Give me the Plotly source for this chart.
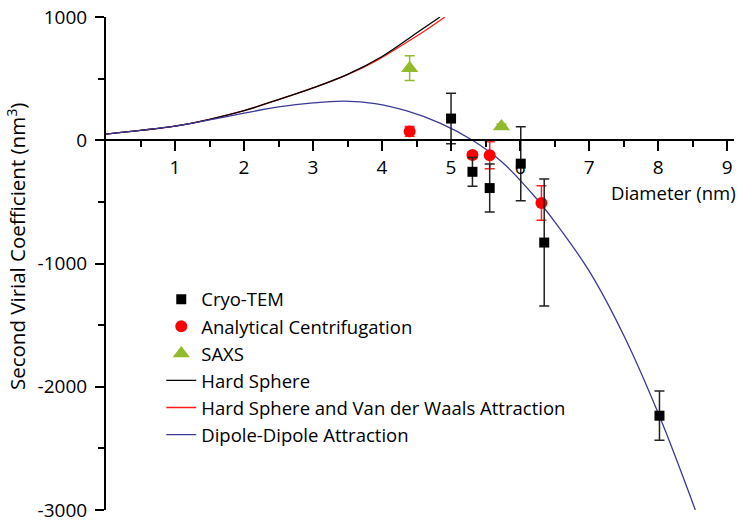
import plotly.graph_objects as go

# --- measured data -------------------------------------------------------
cryo_d = [5.0, 5.31, 5.56, 6.01, 6.35, 8.02]
cryo_b2 = [176, -256, -388, -190, -830, -2235]
cryo_err = [205, 117, 195, 300, 515, 200]

auc_d = [4.40, 5.31, 5.56, 6.31]
auc_b2 = [72, -120, -122, -510]
auc_err = [40, 25, 110, 140]

saxs_d = [4.40, 5.73]
saxs_b2 = [585, 112]
saxs_err = [100, 20]

# --- model curves ---------------------------------------------------------
hs_d = [0.0, 0.5, 1.0, 1.5, 2.0, 2.5, 3.0, 3.5, 4.0, 4.5, 4.84]
hs_b2 = [50, 80, 115, 170, 240, 330, 425, 535, 680, 870, 1000]

vdw_d = [0.0, 0.5, 1.0, 1.5, 2.0, 2.5, 3.0, 3.5, 3.9, 4.3, 4.6, 4.91]
vdw_b2 = [50, 80, 115, 170, 240, 330, 425, 533, 640, 775, 880, 1000]

dip_d = [0.0, 0.5, 1.0, 1.5, 2.0, 2.5, 3.0, 3.45, 3.9, 4.36, 4.84, 5.31,
         5.75, 6.24, 6.5, 7.0, 7.5, 8.02, 8.54]
dip_b2 = [50, 80, 115, 165, 220, 270, 303, 317, 298, 238, 139, 0,
          -182, -475, -660, -1060, -1580, -2240, -3000]

x_ticks = [1, 2, 3, 4, 5, 6, 7, 8, 9]
x_minor = [0.5, 1.5, 2.5, 3.5, 4.5, 5.5, 6.5, 7.5, 8.5]
y_ticks = [-3000, -2000, -1000, 0, 1000]
y_labels = ["-3000", "-2000", "-1000", "0", "1000"]
y_minor = [-2500, -1500, -500, 500]

FONT = "Open Sans"
GREEN = "#92bb2b"
BLUE = "#3a3a96"

fig = go.Figure()

fig.add_trace(go.Scatter(
    x=vdw_d, y=vdw_b2, mode="lines",
    line=dict(color="#ff1a1a", width=1.3, shape="spline", smoothing=1.0),
    name="Hard Sphere and Van der Waals Attraction", legendrank=5))
fig.add_trace(go.Scatter(
    x=hs_d, y=hs_b2, mode="lines",
    line=dict(color="black", width=1.3, shape="spline", smoothing=1.0),
    name="Hard Sphere", legendrank=4))
fig.add_trace(go.Scatter(
    x=dip_d, y=dip_b2, mode="lines",
    line=dict(color=BLUE, width=1.3, shape="spline", smoothing=1.0),
    name="Dipole-Dipole Attraction", legendrank=6))

fig.add_trace(go.Scatter(
    x=saxs_d, y=saxs_b2, mode="markers", name="SAXS", legendrank=3,
    marker=dict(symbol="triangle-up", size=15, color=GREEN),
    error_y=dict(type="data", array=saxs_err, color=GREEN, thickness=1.5, width=5)))
fig.add_trace(go.Scatter(
    x=auc_d, y=auc_b2, mode="markers", name="Analytical Centrifugation", legendrank=2,
    marker=dict(symbol="circle", size=12, color="#ff0000"),
    error_y=dict(type="data", array=auc_err, color="#ff2020", thickness=1.5, width=5)))
fig.add_trace(go.Scatter(
    x=cryo_d, y=cryo_b2, mode="markers", name="Cryo-TEM", legendrank=1,
    marker=dict(symbol="square", size=10, color="black"),
    error_y=dict(type="data", array=cryo_err, color="#222222", thickness=1.5, width=5)))

fig.update_layout(
    width=738, height=527,
    margin=dict(l=106, r=4, t=15, b=13),
    paper_bgcolor="white", plot_bgcolor="white",
    font=dict(family=FONT, color="black"),
    showlegend=True,
    legend=dict(x=0.088, y=0.465, xanchor="left", yanchor="top",
                font=dict(family=FONT, size=18.5, color="black"),
                itemwidth=30, bgcolor="rgba(0,0,0,0)"),
    xaxis=dict(range=[0, 9.1], anchor="free", position=0.75,
               showline=True, linecolor="black", linewidth=2,
               showgrid=False, zeroline=False,
               tickmode="array", tickvals=x_ticks,
               ticks="outside", ticklen=10, tickwidth=1.5, tickcolor="black",
               tickfont=dict(family=FONT, size=19),
               minor=dict(tickmode="array", tickvals=x_minor, ticks="outside",
                          ticklen=6, tickwidth=1.5, tickcolor="black")),
    yaxis=dict(range=[-3000, 1000], domain=[0, 1],
               showline=True, linecolor="black", linewidth=2,
               showgrid=False, zeroline=False,
               tickmode="array", tickvals=y_ticks, ticktext=y_labels,
               ticks="outside", ticklen=9, tickwidth=1.5, tickcolor="black",
               ticklabelstandoff=4,
               tickfont=dict(family=FONT, size=19),
               minor=dict(tickmode="array", tickvals=y_minor, ticks="outside",
                          ticklen=6, tickwidth=1.5, tickcolor="black")),
    annotations=[
        dict(text="Diameter (nm)", xref="paper", yref="paper", x=1, y=0.645,
             xanchor="right", yanchor="middle", xshift=4, showarrow=False,
             font=dict(family=FONT, size=18.5)),
        dict(text="Second Virial Coefficient (nm<sup>3</sup>)", xref="paper", yref="paper",
             x=-0.142, y=0.535, xanchor="center", yanchor="middle", textangle=-90,
             showarrow=False, font=dict(family=FONT, size=20.5)),
    ],
)

fig.write_html("out.html")
